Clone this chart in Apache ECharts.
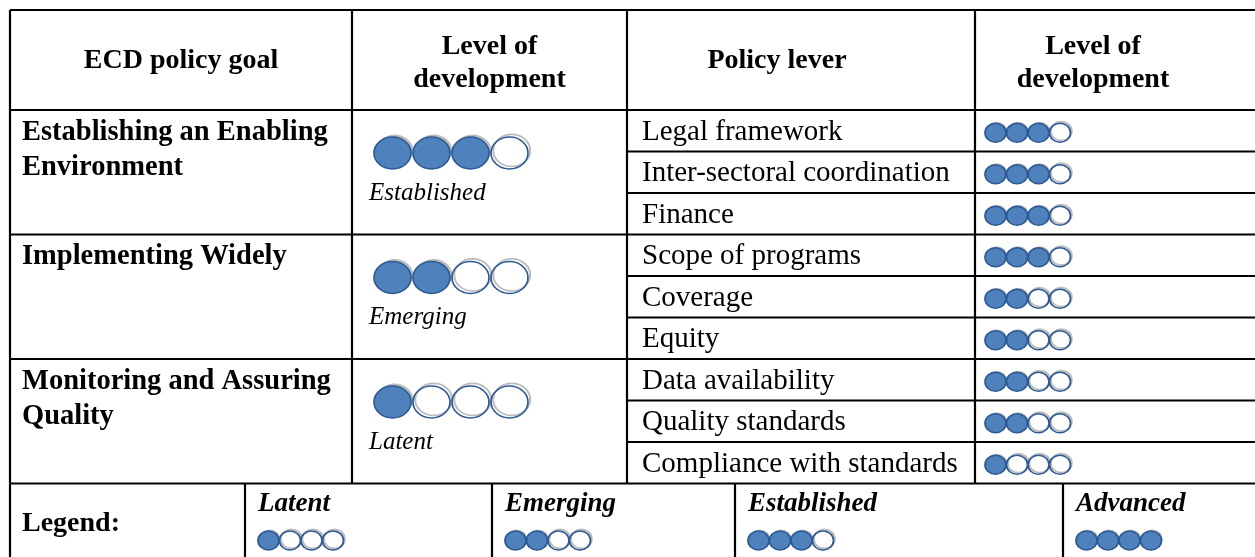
<!DOCTYPE html>
<html><head><meta charset="utf-8">
<script src="https://cdn.jsdelivr.net/npm/echarts@6/dist/echarts.min.js"></script>
<style>html,body{margin:0;padding:0;background:#fff}#c{width:1255px;height:557px}</style>
</head><body><div id="c"></div>
<script>
// ---------- data ----------
const headers = ['ECD policy goal', 'Level of\ndevelopment', 'Policy lever', 'Level of\ndevelopment'];
const goals = ['Establishing an Enabling\nEnvironment', 'Implementing Widely', 'Monitoring and Assuring\nQuality'];
const goalLevelNames = ['Established', 'Emerging', 'Latent'];
const goalLevels = [3, 2, 1];
const levers = ['Legal framework', 'Inter-sectoral coordination', 'Finance',
  'Scope of programs', 'Coverage', 'Equity',
  'Data availability', 'Quality standards', 'Compliance with standards'];
const leverLevels = [3, 3, 3, 3, 2, 2, 2, 2, 1];
const legendTitle = 'Legend:';
const legendNames = ['Latent', 'Emerging', 'Established', 'Advanced'];
const legendLevels = [1, 2, 3, 4];
const maxLevel = 4;

// ---------- layout (pixels on a 1255x557 value-axis canvas) ----------
const W = 1255, H = 557;
const colX = [10, 352, 627, 975, 1270];
const headerShift = [0, 0, -24, -22];
const legendX = [10, 245, 492, 735, 1063, 1270];
const tableTop = 10, headBottom = 110, rowH = 41.5, legendBottom = 580;
const FONT = '"Liberation Serif", "DejaVu Serif", serif';
const SZ = 29;
const BLUE = '#4f81bd', BLUE_D = '#2c5a94', SHADOW = '#bcbcbc';

const chart = echarts.init(document.getElementById('c'), null, {renderer: 'canvas'});

function dots(api, x0, cy, n, rx, ry, gap) {
  const shadows = [], mains = [];
  for (let k = 0; k < maxLevel; k++) {
    const c = api.coord([x0 + rx + k * gap, cy]);
    const filled = k < n;
    shadows.push({type: 'circle', x: c[0] + rx * 0.12, y: c[1] - ry * 0.16, scaleY: ry / rx,
      shape: {cx: 0, cy: 0, r: rx},
      style: filled ? {fill: SHADOW} : {fill: 'rgba(0,0,0,0)', stroke: SHADOW, lineWidth: 2}});
    mains.push({type: 'circle', x: c[0], y: c[1], scaleY: ry / rx,
      shape: {cx: 0, cy: 0, r: rx},
      style: {fill: filled ? BLUE : 'rgba(0,0,0,0)', stroke: BLUE_D, lineWidth: 1.7}});
  }
  return shadows.concat(mains);
}
function txt(api, x, y, text, opt) {
  const p = api.coord([x, y]);
  return {type: 'text', x: p[0], y: p[1], style: Object.assign({
    text: text, fill: '#000', fontFamily: FONT, fontSize: SZ,
    textAlign: 'left', textVerticalAlign: 'middle', align: 'left', verticalAlign: 'middle'
  }, opt || {})};
}
function seg(api, x1, y1, x2, y2) {
  const a = api.coord([x1, y1]), b = api.coord([x2, y2]);
  return {type: 'line', shape: {x1: a[0], y1: a[1], x2: b[0], y2: b[1]},
    style: {stroke: '#000', lineWidth: 2.2}};
}

const nRows = levers.length;
const perGoal = nRows / goals.length;
const legendTop = headBottom + nRows * rowH;

const option = {
  animation: false,
  grid: {left: 0, right: 0, top: 0, bottom: 0},
  xAxis: {type: 'value', min: 0, max: W, show: false},
  yAxis: {type: 'value', min: 0, max: H, inverse: true, show: false},
  series: [
    { // frame lines
      type: 'custom', coordinateSystem: 'cartesian2d', data: [[0, 0]],
      renderItem: function (params, api) {
        const ch = [];
        ch.push(seg(api, colX[0], tableTop, W + 10, tableTop));
        ch.push(seg(api, colX[0], headBottom, W + 10, headBottom));
        for (let r = 1; r <= nRows; r++) {
          const y = headBottom + r * rowH;
          const full = r % perGoal === 0;
          ch.push(seg(api, full ? colX[0] : colX[2], y, W + 10, y));
        }
        for (let c = 0; c < 4; c++) ch.push(seg(api, colX[c], tableTop, colX[c], legendTop));
        for (let c = 0; c < 5; c++) ch.push(seg(api, legendX[c], legendTop, legendX[c], legendBottom));
        return {type: 'group', children: ch};
      }
    },
    { // headers
      type: 'custom', coordinateSystem: 'cartesian2d', data: headers.map((h, i) => [i, 0]),
      renderItem: function (params, api) {
        const i = api.value(0);
        const cx = (colX[i] + Math.min(colX[i + 1], W)) / 2 + headerShift[i];
        const twoLine = headers[i].indexOf('\n') >= 0;
        return txt(api, cx, twoLine ? 63 : 61, headers[i],
          {fontWeight: 'bold', fontSize: 28, textAlign: 'center', align: 'center', lineHeight: 33});
      }
    },
    { // goals
      type: 'custom', coordinateSystem: 'cartesian2d', data: goals.map((g, i) => [i, goalLevels[i]]),
      renderItem: function (params, api) {
        const i = api.value(0), n = api.value(1);
        const top = headBottom + i * perGoal * rowH;
        const ch = [];
        ch.push(txt(api, colX[0] + 12, top + 5, goals[i],
          {fontWeight: 'bold', fontSize: 28.5, textVerticalAlign: 'top', verticalAlign: 'top', lineHeight: 35}));
        ch.push(...dots(api, colX[1] + 22, top + 43, n, 18.5, 16, 39));
        ch.push(txt(api, colX[1] + 17, top + 83, goalLevelNames[i], {fontStyle: 'italic', fontSize: 25}));
        return {type: 'group', children: ch};
      }
    },
    { // levers
      type: 'custom', coordinateSystem: 'cartesian2d', data: levers.map((l, i) => [i, leverLevels[i]]),
      renderItem: function (params, api) {
        const i = api.value(0), n = api.value(1);
        const cy = headBottom + (i + 0.5) * rowH;
        const ch = [];
        ch.push(txt(api, colX[2] + 15, cy + 1.5, levers[i], {}));
        ch.push(...dots(api, colX[3] + 10, cy + 2, n, 10.5, 9.5, 21.5));
        return {type: 'group', children: ch};
      }
    },
    { // legend
      type: 'custom', coordinateSystem: 'cartesian2d', data: legendNames.map((l, i) => [i, legendLevels[i]]),
      renderItem: function (params, api) {
        const i = api.value(0), n = api.value(1);
        const x = legendX[i + 1] + 13;
        const ch = [];
        if (i === 0) ch.push(txt(api, legendX[0] + 12, legendTop + 40, legendTitle, {fontWeight: 'bold', fontSize: 28}));
        ch.push(txt(api, x, legendTop + 21, legendNames[i], {fontWeight: 'bold', fontStyle: 'italic', fontSize: 27}));
        ch.push(...dots(api, x, legendTop + 57, n, 10.5, 9.5, 21.5));
        return {type: 'group', children: ch};
      }
    }
  ]
};
chart.setOption(option);
</script>
</body></html>
